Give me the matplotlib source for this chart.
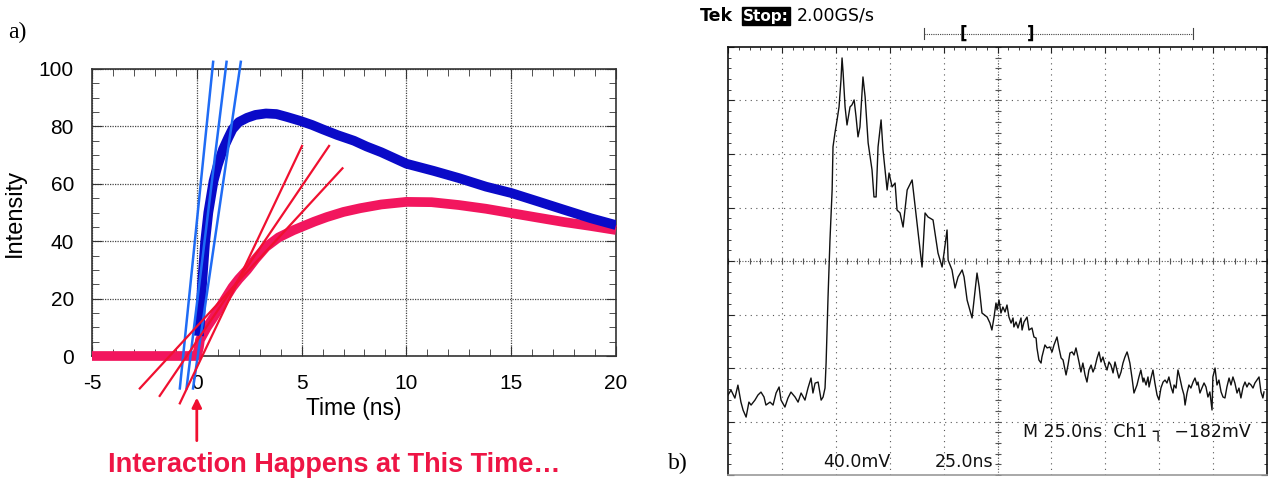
import numpy as np
import matplotlib
matplotlib.use("Agg")
import matplotlib.pyplot as plt

W, H = 1268, 479

# ---- panel a) data (read from picture) ----
blue_t = [0.1, 0.15, 0.25, 0.4, 0.55, 0.8, 1.0, 1.25, 1.5, 1.7, 2.0, 2.4, 2.8, 3.3,
          3.8, 4.3, 4.9, 5.5, 6.0, 6.7, 7.5, 8.1, 8.8, 9.4, 10.0, 11.3, 12.5, 13.8,
          15.0, 16.3, 17.5, 18.8, 20.0]
blue_I = [7, 11.5, 25, 40, 50, 61, 66.5, 72, 76, 79, 81.5, 83, 84, 84.5,
          84.3, 83.3, 82, 80.5, 79, 77, 75, 73, 71, 69, 67, 64.5, 62, 59,
          56.8, 53.8, 51, 48, 45.6]

pink_t = [-5, 0.0, 0.1, 0.15, 0.48, 0.8, 1.1, 1.4, 1.7, 2.0, 2.4, 2.8, 3.3, 3.9,
          4.6, 5.0, 5.6, 6.2, 7.0, 7.8, 8.8, 10.0, 11.2, 12.5, 13.8, 15.0, 16.2,
          17.5, 18.8, 20.0]
pink_I = [0, 0, 3, 5.6, 10, 13.5, 17, 20.5, 24, 26.8, 30, 33.8, 38, 41.3,
          43.8, 45, 46.8, 48.4, 50.2, 51.5, 52.8, 53.7, 53.6, 52.6, 51.3, 49.8, 48.3,
          46.7, 45.3, 43.9]

# tangent lines: (t start, I start, t end, I end)
blue_tan_t0 = [-0.81, -0.49, -0.18]
blue_tan_t1 = [0.78, 1.42, 2.10]
blue_tan_I0 = [-11.3, -11.3, -11.3]
blue_tan_I1 = [102.5, 102.5, 102.5]

red_tan_t0 = [-2.72, -1.77, -0.81]
red_tan_t1 = [6.95, 6.31, 5.02]
red_tan_I0 = [-11.3, -13.9, -16.5]
red_tan_I1 = [65.4, 73.2, 73.2]

# ---- panel b) scope trace (ns, mV relative to screen centre) ----
scope_t = [0, 1.4, 3.2, 4.6, 6.0, 7.0, 8.4, 9.7, 10.7, 12.5, 13.9, 15.3, 16.7, 17.6,
           19.5, 20.9, 22.3, 23.7, 24.6, 26.4, 27.8, 29.2, 31.1, 32.5, 33.9, 35.7,
           37.1, 38.5, 39.4, 40.4, 41.8, 43.2, 44.1, 45.0, 45.5, 46.4, 47.3, 48.3,
           48.7, 49.6, 50.6, 51.5, 52.4, 52.9, 53.4, 54.3, 55.2, 56.6, 57.5, 58.5,
           59.4, 60.3, 61.2, 62.6, 63.6, 65.0, 66.8, 67.7, 68.7, 69.6, 71.0, 71.9,
           73.8, 74.7, 76.1, 77.5, 78.4, 79.8, 81.2, 83.1, 85.4, 86.8, 88.2, 90.0,
           91.4, 92.8, 95.1, 96.0, 97.4, 99.3, 100.2, 101.6, 102.1, 103.9, 105.3,
           106.7, 108.6, 109.5, 110.9, 113.2, 115.5, 116.5, 117.8, 120.2,
           121.5, 122.4, 123.4, 124.3, 124.8, 125.7, 126.6, 127.5, 128.5, 129.4,
           130.3, 131.3, 132.2, 132.6, 133.6, 134.5, 135.9, 136.4, 137.3, 138.7,
           139.6, 141.0, 141.9, 142.9, 143.3, 144.2, 145.2, 145.6, 147.0, 148.0,
           149.3, 150.3, 151.2, 152.6, 153.5, 154.5, 155.4, 156.8, 157.7, 158.6,
           159.6, 160.5, 161.4, 162.3, 162.8, 163.7, 164.6, 165.6, 166.5, 167.4,
           168.4, 169.3, 170.2, 171.2, 172.1, 173.0, 173.9, 174.9, 175.8, 176.7,
           177.6, 178.6, 179.5, 180.4, 181.3, 182.3, 183.2, 184.1, 185.1, 185.5,
           186.4, 187.4, 188.3, 189.7, 190.6, 191.5, 192.5, 192.9, 193.9, 194.8,
           195.3, 196.2, 197.1, 198.0, 199.0, 199.9, 200.8, 201.8, 202.7, 203.6,
           204.5, 205.5, 206.4, 206.9, 207.8, 208.7, 209.6, 210.6, 211.5, 212.0,
           212.9, 213.8, 214.7, 215.7, 216.6, 217.5, 218.0, 218.9, 219.8, 220.8,
           221.7, 222.6, 223.5, 224.5, 224.9, 225.9, 226.8, 227.7, 228.7, 229.6,
           230.5, 231.4, 232.4, 233.3, 234.2, 235.1, 236.1, 237.0, 237.9, 238.9,
           239.8, 240.7, 241.6, 242.6, 243.5, 244.4, 245.3, 246.3, 247.2, 248.1,
           248.6]
scope_mV = [-100.2, -96.5, -102.5, -92.8, -105.5, -111.5, -116.7, -105.5, -107.7,
            -104.0, -100.2, -98.0, -101.7, -107.7, -105.5, -107.7, -98.7, -94.2,
            -104.0, -109.2, -102.5, -98.0, -101.7, -105.5, -98.7, -104.0, -95.0,
            -87.5, -98.7, -91.3, -90.5, -104.0, -101.7, -95.0, -76.3, -26.9, 15.7,
            53.1, 85.3, 95.7, 105.5, 115.2, 135.4, 151.8, 140.6, 115.2, 101.7, 115.2,
            116.7, 120.4, 107.7, 92.8, 100.2, 137.6, 122.7, 88.3, 68.1, 47.9, 47.9,
            85.3, 105.5, 83.0, 53.1, 65.8, 55.4, 58.3, 38.1, 35.9, 25.4, 53.1, 60.6,
            40.4, 20.9, -4.5, 35.9, 32.9, 30.7, 20.9, 6.0, -4.5, 6.0, 23.2, 0.7,
            -6.7, -20.2, -12.0, -6.7, -12.0, -29.2, -42.6, -9.0, -19.4, -38.9, -41.9,
            -46.4, -51.6, -41.9, -31.4, -36.6, -29.2, -38.9, -34.4, -38.1, -32.9,
            -41.9, -46.4, -42.6, -49.3, -45.6, -50.1, -42.6, -51.6, -45.6, -41.9,
            -51.6, -50.1, -56.8, -57.6, -65.0, -74.0, -76.3, -71.8, -62.8, -65.0,
            -64.3, -68.0, -62.8, -56.8, -65.0, -72.5, -74.0, -85.2, -77.8, -68.8,
            -68.0, -70.3, -65.0, -71.8, -75.5, -83.0, -76.3, -85.2, -90.5, -81.5,
            -77.8, -83.0, -79.3, -72.5, -68.0, -75.5, -71.8, -77.8, -81.5, -75.5,
            -77.8, -83.7, -75.5, -81.5, -87.5, -83.0, -76.3, -71.8, -68.0, -70.3,
            -76.3, -87.5, -98.7, -92.7, -86.7, -81.5, -90.5, -87.5, -92.7, -86.7,
            -94.2, -87.5, -81.5, -91.2, -100.2, -103.9, -95.0, -90.5, -89.0, -91.2,
            -86.7, -94.2, -98.7, -92.7, -95.0, -81.5, -87.5, -95.0, -100.2, -107.7,
            -98.7, -92.7, -95.0, -90.5, -87.5, -92.7, -90.5, -98.7, -95.0, -91.2,
            -94.2, -101.7, -97.9, -111.4, -86.7, -80.0, -92.7, -89.0, -97.9, -101.7,
            -102.4, -94.2, -87.5, -92.7, -86.7, -91.2, -98.7, -95.0, -102.4, -94.2,
            -90.5, -94.2, -91.2, -92.7, -95.0, -91.2, -89.0, -86.7, -97.9, -102.4,
            -97.9]

BLUE = "#0a0ac8"
PINK = "#f2165e"
LBLUE = "#1f6cf5"
RED = "#f01030"

plt.rcParams['font.family'] = ['Liberation Sans', 'DejaVu Sans']
plt.rcParams['axes.unicode_minus'] = False

fig = plt.figure(figsize=(W / 100, H / 100), dpi=100)
fig.patch.set_facecolor("white")

# ================= panel a) =================
ax1 = fig.add_axes([92 / W, 1 - 356 / H, 524 / W, 287 / H])
ax1.set_xlim(-5, 20)
ax1.set_ylim(0, 100)
ax1.set_xticks([-5, 0, 5, 10, 15, 20])
ax1.set_yticks([0, 20, 40, 60, 80, 100])
ax1.set_xticks(np.arange(-5, 21, 1), minor=True)
ax1.set_yticks(np.arange(0, 101, 5), minor=True)
ax1.tick_params(which="both", direction="in", top=True, right=True, color="#333")
ax1.tick_params(which="major", length=7, labelsize=15, pad=13)
ax1.tick_params(which="minor", length=5)
ax1.tick_params(axis="y", pad=13)
ax1.grid(True, which="major", color="#444", linestyle=(0, (1, 1)), linewidth=0.9)
for sp in ax1.spines.values():
    sp.set_color("#333")
    sp.set_linewidth(1.2)

ax1.plot(pink_t, pink_I, color=PINK, lw=7, solid_capstyle="butt",
         solid_joinstyle="round", clip_on=False, zorder=3)
ax1.plot(blue_t, blue_I, color=BLUE, lw=7, solid_capstyle="butt",
         solid_joinstyle="round", zorder=4)

for t0, t1, i0, i1 in zip(blue_tan_t0, blue_tan_t1, blue_tan_I0, blue_tan_I1):
    ax1.plot([t0, t1], [i0, i1], color=LBLUE, lw=1.8, clip_on=False, zorder=5)
for t0, t1, i0, i1 in zip(red_tan_t0, red_tan_t1, red_tan_I0, red_tan_I1):
    ax1.plot([t0, t1], [i0, i1], color=RED, lw=1.6, clip_on=False, zorder=5)

ax1.set_xlabel("Time (ns)", fontsize=16.5, labelpad=3)
ax1.set_ylabel("Intensity", fontsize=17, labelpad=9)

ax1.annotate("", xy=(0, -14.5), xytext=(0, -29.5),
             arrowprops=dict(arrowstyle="-|>", color=RED, lw=2, mutation_scale=14,
                             shrinkA=0, shrinkB=0),
             annotation_clip=False)

fig.text(334 / W, 1 - 465 / H, "Interaction Happens at This Time\u2026",
         color="#ee1545", fontsize=19.5, fontweight="bold", ha="center", va="center",
         family=["Liberation Sans Narrow", "Liberation Sans"])

fig.text(8 / W, 1 - 32 / H, "a)", fontsize=17, family="Liberation Serif", va="center")
fig.text(668 / W, 1 - 463 / H, "b)", fontsize=17, family="Liberation Serif", va="center")

# ================= panel b) =================
ax2 = fig.add_axes([728 / W, 1 - 475 / H, 539 / W, 428 / H])
ax2.set_xlim(0, 250)
ax2.set_ylim(-160, 160)
ax2.set_xticks(np.arange(0, 251, 25))
ax2.set_yticks(np.arange(-160, 161, 40))
ax2.set_xticks(np.arange(0, 251, 5), minor=True)
ax2.set_yticks(np.arange(-160, 161, 8), minor=True)
ax2.tick_params(which="both", direction="in", top=True, right=True, bottom=False,
                labelbottom=False, labelleft=False, color="#222")
ax2.tick_params(which="major", length=4)
ax2.tick_params(which="minor", length=2.5)
for x in np.arange(25, 250, 25):
    ax2.axvline(x, color="#555", lw=0.8, linestyle=(0, (1, 4)), zorder=1)
for y in np.arange(-120, 160, 40):
    ax2.axhline(y, color="#555", lw=0.8, linestyle=(0, (1, 4)), zorder=1)
# centre graticule with fine marks
ax2.axvline(125, color="#666", lw=0.8, linestyle=(0, (1, 1.5)), zorder=1)
ax2.axhline(0, color="#666", lw=0.8, linestyle=(0, (1, 1.5)), zorder=1)
ax2.plot(np.arange(0, 251, 5), np.zeros(51), ls="none", marker="|", ms=5,
         color="#555", mew=0.8, zorder=1)
ax2.plot(np.full(41, 125), np.arange(-160, 161, 8), ls="none", marker="_", ms=5,
         color="#555", mew=0.8, zorder=1)
for side, sp in ax2.spines.items():
    sp.set_color("#111" if side != "bottom" else "#999")
    sp.set_linewidth(1.2)

ax2.plot(scope_t, scope_mV, color="#111", lw=1.0, zorder=3)

scope_font = dict(family="DejaVu Sans", fontsize=12.5, color="#111")
ax2.text(44, -150, "40.0mV", va="center", **scope_font)
ax2.text(96, -150, "25.0ns", va="center", **scope_font)
ax2.text(137, -128, "M 25.0ns  Ch1 \u2510  \u2212182mV", va="center", **scope_font)

# record-window indicator above the screen
win_start, win_end, br_left, br_right, win_y = 91, 215.7, 109, 140.5, 170
ax2.plot([win_start, win_end], [win_y, win_y], color="#444", lw=0.8,
         linestyle=(0, (1, 1)), clip_on=False)
ax2.plot([win_start, win_start], [win_y - 4, win_y + 4], color="#444", lw=0.8, clip_on=False)
ax2.plot([win_end, win_end], [win_y - 4, win_y + 4], color="#444", lw=0.8, clip_on=False)
ax2.text(br_left, win_y, "[", ha="center", va="center", fontsize=12, fontweight="bold",
         family="DejaVu Sans", clip_on=False)
ax2.text(br_right, win_y, "]", ha="center", va="center", fontsize=12, fontweight="bold",
         family="DejaVu Sans", clip_on=False)

fig.text(700 / W, 1 - 16 / H, "Tek", fontsize=12.5, fontweight="bold",
         family="DejaVu Sans", va="center")
fig.text(743 / W, 1 - 16 / H, "Stop:", fontsize=11, fontweight="bold", color="white",
         family="DejaVu Sans", va="center",
         bbox=dict(facecolor="black", edgecolor="black", pad=0.8))
fig.text(797 / W, 1 - 16 / H, "2.00GS/s", fontsize=12.5, family="DejaVu Sans",
         va="center")

fig.savefig("out.png", dpi=100)
